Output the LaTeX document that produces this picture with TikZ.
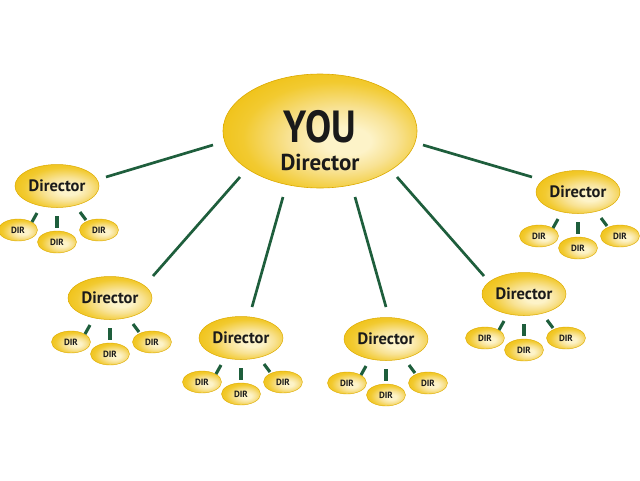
\documentclass[tikz,border=0pt]{standalone}
\usepackage{fontspec}
\setmainfont{PT Sans}
\usetikzlibrary{shapes.geometric,calc}
\definecolor{gcream}{HTML}{FDF3C8}
\definecolor{glight}{HTML}{F8E293}
\definecolor{gmid}{HTML}{F2CA30}
\definecolor{gdeep}{HTML}{EFC010}
\definecolor{grim}{HTML}{DCAA00}
\definecolor{lineg}{HTML}{1E5E3C}
\definecolor{txt}{HTML}{1A1A1A}
\pgfdeclareradialshading{goldball}{\pgfpoint{8bp}{-5bp}}{color(0bp)=(gcream); color(6bp)=(gcream); color(14bp)=(glight); color(24bp)=(gmid); color(32bp)=(gdeep); color(38bp)=(grim); color(50bp)=(grim)}
\tikzset{
  boss/.style={ellipse, shade, shading=goldball, draw=grim, line width=0.6pt,
    minimum width=194pt, minimum height=114pt, inner sep=0pt},
  dirbox/.style={ellipse, shade, shading=goldball, draw=grim, line width=0.5pt,
    minimum width=84pt, minimum height=43pt, inner sep=0pt, text=txt,
    font=\bfseries\fontsize{16.5}{16.5}\selectfont},
  subdir/.style={ellipse, shade, shading=goldball, draw=grim, line width=0.4pt,
    minimum width=39pt, minimum height=22pt, inner sep=0pt, text=txt,
    font=\bfseries\fontsize{9}{9}\selectfont},
  conn/.style={draw=lineg, line width=2.7pt},
  subconn/.style={draw=lineg, line width=3.1pt},
  bosstext/.style={text=txt, anchor=base, inner sep=0pt}
}
\begin{document}
\begin{tikzpicture}[x=1pt,y=-1pt]
\useasboundingbox (0,0) rectangle (640,480);
\node[boss] (you) at (320,131) {};
\node[bosstext, font=\bfseries\fontsize{45}{45}\selectfont] (youtxt) at ($(you)+(0,11)$) {\scalebox{0.87}[1]{YOU}};
\node[bosstext, font=\bfseries\fontsize{23}{23}\selectfont] (youdir) at ($(you)+(0,39)$) {Director};
\foreach \n/\px/\py in {1/57/186, 2/578/192, 3/110/298, 4/241/338, 5/386/339, 6/524/294}{
  \node[dirbox] (d\n) at (\px,\py) {Director};
  \node[subdir] (d\n-a) at ($(d\n)+(-39,44)$) {DIR};
  \node[subdir] (d\n-b) at ($(d\n)+(0,56)$) {DIR};
  \node[subdir] (d\n-c) at ($(d\n)+(42,44)$) {DIR};
  \draw[subconn] ($(d\n)+(-20,27)$) -- ($(d\n-a)+(14,-8)$);
  \draw[subconn] ($(d\n)+(0,30)$) -- ($(d\n-b)+(0,-14)$);
  \draw[subconn] ($(d\n)+(23,26)$) -- ($(d\n-c)+(-13,-10)$);
}
\draw[conn] ($(you)+(-107,14)$) -- ($(d1)+(49,-9)$);
\draw[conn] ($(you)+(103,14)$) -- ($(d2)+(-46,-15)$);
\draw[conn] ($(you)+(-80,46)$) -- ($(d3)+(43,-22)$);
\draw[conn] ($(you)+(-37,66)$) -- ($(d4)+(11,-31)$);
\draw[conn] ($(you)+(35,66)$) -- ($(d5)+(0,-32)$);
\draw[conn] ($(you)+(77,46)$) -- ($(d6)+(-40,-18)$);
\end{tikzpicture}
\end{document}
